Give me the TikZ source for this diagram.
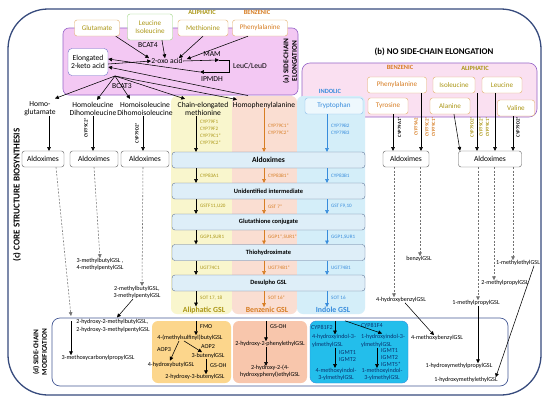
\documentclass[tikz,border=0pt]{standalone}
\usepackage{fontspec}
\setmainfont{Carlito}
\usetikzlibrary{arrows.meta}
\definecolor{frameC}{RGB}{55,75,125}
\definecolor{pinkA}{RGB}{243,200,243}
\definecolor{pinkAB}{RGB}{150,100,200}
\definecolor{pinkB}{RGB}{250,224,241}
\definecolor{aliT}{RGB}{170,150,20}
\definecolor{benT}{RGB}{215,125,35}
\definecolor{indT}{RGB}{55,140,220}
\definecolor{fillAli}{RGB}{249,246,205}
\definecolor{fillBen}{RGB}{250,222,210}
\definecolor{fillInd}{RGB}{212,238,249}
\definecolor{rowF}{RGB}{222,238,248}
\definecolor{rowB}{RGB}{95,115,150}
\definecolor{aaB}{RGB}{225,170,100}
\definecolor{greenB}{RGB}{150,210,120}
\definecolor{grayB}{RGB}{90,90,90}
\definecolor{elB}{RGB}{110,110,200}
\definecolor{dOr}{RGB}{252,214,140}
\definecolor{dSal}{RGB}{248,198,172}
\definecolor{dCy}{RGB}{35,190,235}
\definecolor{dCyT}{RGB}{10,50,110}
\definecolor{dB}{RGB}{70,90,150}
\begin{document}
\begin{tikzpicture}[x=1pt,y=-1pt,
 lab/.style={font=\fontsize{7.6}{8.4}\selectfont, align=center, inner sep=0pt},
 hdr/.style={font=\bfseries\fontsize{6.4}{7}\selectfont, inner sep=0pt},
 sm/.style={font=\fontsize{5.1}{7}\selectfont, align=left, anchor=west, inner sep=0pt},
 rot/.style={font=\bfseries\fontsize{4.8}{5}\selectfont, rotate=90, inner sep=0pt},
 gsl/.style={font=\fontsize{6.1}{7.4}\selectfont, align=center, inner sep=0pt},
 aa/.style={draw=aaB, fill=white, rounded corners=2.5pt, minimum height=16pt, inner sep=1pt, font=\fontsize{7.1}{8.2}\selectfont, align=center},
 aldo/.style={draw=grayB, fill=white, rounded corners=2.5pt, minimum height=16pt, inner sep=1pt, font=\fontsize{7.6}{8}\selectfont},
 rowbox/.style={draw=rowB, fill=rowF, rounded corners=3pt, minimum width=193pt, minimum height=16pt, inner sep=0pt, font=\bfseries\fontsize{6.4}{7}\selectfont},
 arr/.style={-{Triangle[length=3.8pt,width=3.6pt]}, line width=0.55pt},
 dsh/.style={arr, dash pattern=on 2pt off 1.5pt, draw=gray!90!black},
 sec/.style={font=\bfseries\fontsize{7.3}{8.6}\selectfont, align=center, inner sep=0pt},
 gslt/.style={font=\bfseries\fontsize{7.8}{8}\selectfont, inner sep=0pt}
]
\useasboundingbox (0,0) rectangle (550,405);
\fill[white] (0,0) rectangle (550,405);
\draw[frameC, line width=1.3pt, rounded corners=40pt] (8,9) rectangle (541,395);
% section backgrounds
\draw[pinkAB, fill=pinkA, line width=0.6pt, rounded corners=6pt] (63,28) rectangle (298,95);
\draw[pinkAB, fill=pinkB, line width=0.6pt, rounded corners=8pt] (302,63) rectangle (537,117);
\fill[fillAli, rounded corners=6pt] (171,96) rectangle (232,314);
\fill[fillBen, rounded corners=6pt] (232,96) rectangle (297,314);
\fill[fillInd, rounded corners=6pt] (297,96) rectangle (365,314);
\draw[dB, fill=white, line width=0.7pt, rounded corners=8pt] (52,318) rectangle (508,386);
\node[fill=dOr, rounded corners=6pt, minimum width=79pt, minimum height=62pt, inner sep=0pt] (dbA) at (191.5,352) {};
\node[fill=dSal, rounded corners=6pt, minimum width=74pt, minimum height=62pt, inner sep=0pt] (dbB) at (270,352) {};
\node[fill=dCy, draw=indT, rounded corners=6pt, minimum width=98pt, minimum height=62pt, inner sep=0pt] (dbC) at (359,352) {};
% section titles
\node[sec, rotate=90, font=\bfseries\fontsize{9}{10}\selectfont] (secC) at (17,195) {(c) CORE STRUCTURE BIOSYNTHESIS};
\node[sec, rotate=90] (secD) at (40,352) {(d) SIDE-CHAIN\\MODIFICATION};
\node[sec, rotate=90] (secA) at (290,61) {(a) SIDE-CHAIN\\ELONGATION};
\node[sec, font=\bfseries\fontsize{8.8}{10}\selectfont] (secB) at (434,52) {(b) NO SIDE-CHAIN ELONGATION};
% (a) side-chain elongation
\node[hdr, text=aliT] (aliA) at (202,12) {ALIPHATIC};
\node[hdr, text=benT] (benA) at (257,12.5) {BENZENIC};
\node[aa, text=aliT, minimum width=45pt] (glu) at (97,28) {Glutamate};
\node[aa, draw=greenB, text=aliT, minimum width=45pt, minimum height=26pt] (leu) at (150,27) {Leucine\\Isoleucine};
\node[aa, text=aliT, minimum width=50pt] (met) at (203,28) {Methionine};
\node[aa, text=benT, minimum width=55pt] (phe) at (260,28) {Phenylalanine};
\node[draw=elB, fill=white, rounded corners=4pt, minimum width=40pt, minimum height=27pt, lab] (elong) at (88,62) {Elongated\\2-keto acid};
\node[lab] (oxo) at (167,61) {2-oxo acid};
\node[lab] (bcat4) at (148,45) {BCAT4};
\node[lab] (mam) at (212,54) {MAM};
\node[lab] (leucd) at (250,66) {LeuC/LeuD};
\node[lab] (ipmdh) at (212,79) {IPMDH};
\node[lab] (bcat3) at (122,86) {BCAT3};
\coordinate (m1) at (229,60);
\coordinate (m2) at (229,72);
\coordinate (m3) at (200,72);
\coordinate (eo) at (115,76);
\draw[arr] ([xshift=-4pt]glu.south east) -- ([xshift=-2pt]oxo.north west);
\draw[arr] ([xshift=12pt]leu.south) -- ([xshift=-2pt]oxo.north);
\draw[arr] (met.south) -- ([xshift=-4pt]oxo.north east);
\draw[arr] ([xshift=-12pt]phe.south) -- ([xshift=4pt,yshift=2pt]oxo.east);
\draw[arr] (oxo.east) -- (219,60);
\draw[line width=0.55pt] (219,60) -- (m1) -- (m2) -- (207,72);
\draw[arr] (m2) -- (m3);
\draw[arr] (m3) -- ([yshift=3pt]elong.east);
\draw[arr] ([yshift=-2pt]elong.east) -- (oxo.west);
\node[lab] (hglu) at (40,109) {Homo-\\glutamate};
\node[lab] (hleu) at (93,109) {Homoleucine\\Dihomoleucine};
\node[lab] (hile) at (145,109) {Homoisoleucine\\Dihomoisoleucine};
\node[lab] (cem) at (203,109) {Chain-elongated\\methionine};
\node[lab] (hphe) at (264,105) {Homophenylalanine};
\draw[arr] (eo) -- ([xshift=15pt,yshift=3pt]hglu.north);
\draw[arr] (eo) -- ([xshift=4pt,yshift=2pt]hleu.north);
\draw[arr] (eo) -- ([xshift=-15pt,yshift=3pt]hile.north);
\draw[arr] (eo) -- ([xshift=-18pt,yshift=3pt]cem.north);
\draw[arr] (eo) -- ([xshift=-27pt,yshift=2pt]hphe.north);
\draw[arr] ([xshift=-16pt,yshift=6pt]hphe.north) -- ([yshift=-5pt]elong.east);
% left aldoximes
\node[aldo, minimum width=42pt] (ald1) at (43,159) {Aldoximes};
\node[aldo, minimum width=48pt] (ald2) at (94,159) {Aldoximes};
\node[aldo, minimum width=48pt] (ald3) at (145,159) {Aldoximes};
\draw[arr] ([xshift=9pt]hglu.south) -- ([xshift=9pt]hglu.south |- ald1.north);
\draw[arr] (hleu.south) -- (hleu.south |- ald2.north);
\draw[arr] ([xshift=-2pt]hile.south) -- ([xshift=-2pt]hile.south |- ald3.north);
\node[rot] (rc1) at (86,128) {CYP79C2*};
\node[rot] (rc2) at (137,133) {CYP79D2*};
% core column boxes
\node[rowbox] (r1) at (268.5,160) {\fontsize{7.6}{8}\selectfont Aldoximes};
\node[rowbox] (r2) at (268.5,191) {Unidentified intermediate};
\node[rowbox] (r3) at (268.5,222) {Glutathione conjugate};
\node[rowbox] (r4) at (268.5,252.5) {Thiohydroximate};
\node[rowbox] (r5) at (268.5,283) {Desulpho GSL};
\coordinate (xA) at (196,0);
\coordinate (xB) at (264,0);
\coordinate (xC) at (327,0);
\node[hdr, text=indT] (indB) at (330,91) {INDOLIC};
\node[aa, draw=indT!60, fill=white!60!fillInd, text=indT, minimum width=58pt] (trp) at (334,106) {Tryptophan};
\draw[arr] (cem.south -| xA) -- (r1.north -| xA);
\draw[arr, draw=benT] (hphe.south -| xB) -- (r1.north -| xB);
\draw[arr, draw=indT] (trp.south -| xC) -- (r1.north -| xC);
\foreach \a/\b in {r1/r2, r2/r3, r3/r4, r4/r5} {
 \draw[arr] (\a.south -| xA) -- (\b.north -| xA);
 \draw[arr, draw=benT] (\a.south -| xB) -- (\b.north -| xB);
 \draw[arr, draw=indT] (\a.south -| xC) -- (\b.north -| xC);
}
\node[sm, text=aliT] (la0) at (200,132.5) {CYP79F1\\CYP79F2\\CYP79C1*\\CYP79C2*};
\node[sm, text=benT] (lb0) at (268,129) {CYP79C1*\\CYP79C2*};
\node[sm, text=indT] (lc0) at (331,129.5) {CYP79B2\\CYP79B3};
\node[sm, text=aliT] (la1) at (200,175.5) {CYP83A1};
\node[sm, text=benT] (lb1) at (268,175.5) {CYP83B1*};
\node[sm, text=indT] (lc1) at (331,175.5) {CYP83B1};
\node[sm, text=aliT] (la2) at (200,206.5) {GSTF11,U20};
\node[sm, text=benT] (lb2) at (268,206.5) {GST 7*};
\node[sm, text=indT] (lc2) at (331,206.5) {GST F9,10};
\node[sm, text=aliT] (la3) at (200,237) {GGP1,SUR1};
\node[sm, text=benT] (lb3) at (268,237) {GGP1*,SUR1*};
\node[sm, text=indT] (lc3) at (331,237) {GGP1,SUR1};
\node[sm, text=aliT] (la4) at (200,267.5) {UGT74C1};
\node[sm, text=benT] (lb4) at (268,267.5) {UGT74B1*};
\node[sm, text=indT] (lc4) at (331,267.5) {UGT74B1};
\node[sm, text=aliT] (la5) at (200,298) {SOT 17, 18};
\node[sm, text=benT] (lb5) at (268,298) {SOT 16*};
\node[sm, text=indT] (lc5) at (331,298) {SOT 16};
\node[gslt, text=aliT] (aligsl) at (204,310) {Aliphatic GSL};
\node[gslt, text=benT] (bengsl) at (267,310) {Benzenic GSL};
\node[gslt, text=indT] (indgsl) at (333,310) {Indole GSL};
\draw[arr] (r5.south -| xA) -- (aligsl.north -| xA);
\draw[arr, draw=benT] (r5.south -| xB) -- (bengsl.north -| xB);
\draw[arr, draw=indT] (r5.south -| xC) -- (indgsl.north -| xC);
% (b) no side-chain elongation
\node[hdr, text=benT] (benB) at (400,67.5) {BENZENIC};
\node[hdr, text=aliT] (aliB) at (475,68) {ALIPHATIC};
\node[aa, text=benT, minimum width=59pt] (phe2) at (397,85) {Phenylalanine};
\node[aa, text=benT, minimum width=40pt] (tyr) at (388,106) {Tyrosine};
\node[aa, text=aliT, minimum width=42pt] (ile2) at (454,85) {Isoleucine};
\node[aa, text=aliT, minimum width=40pt] (leu2) at (502,85) {Leucine};
\node[aa, text=aliT, minimum width=40pt] (ala) at (450,106) {Alanine};
\node[aa, text=aliT, minimum width=37pt] (val) at (516,108) {Valine};
\node[aldo, minimum width=46pt] (ald4) at (406,159) {Aldoximes};
\node[aldo, minimum width=63pt] (ald5) at (490,159) {Aldoximes};
\draw[arr] ([xshift=5pt]tyr.south) -- ([xshift=5pt]tyr.south |- ald4.north);
\draw[arr] ([xshift=24pt]phe2.south) -- ([xshift=24pt]phe2.south |- ald4.north);
\draw[arr] ([xshift=4pt]ala.south) -- ([xshift=-30pt]ald5.north);
\draw[arr] ([xshift=23pt]ile2.south) -- ([xshift=23pt]ile2.south |- ald5.north);
\draw[arr] ([xshift=-7pt]leu2.south) -- ([xshift=-7pt]leu2.south |- ald5.north);
\draw[arr] ([xshift=-3pt]val.south) -- ([xshift=-3pt]val.south |- ald5.north);
\node[rot] (rb1) at (399.5,127) {CYP79A1*};
\node[rot, text=benT] (rb2) at (416,127) {CYP79A2};
\node[rot, text=benT] (rb3) at (427,127) {CYP79C2*};
\node[rot, text=benT] (rb4) at (433.5,127) {CYP79C1*};
\node[rot, text=aliT] (rb5) at (472,127) {CYP79D2*};
\node[rot, text=aliT] (rb6) at (481,127) {CYP79C2*};
\node[rot, text=aliT] (rb7) at (487.5,127) {CYP79C1*};
\node[rot] (rb8) at (518,127) {CYP79D2*};
% GSL products
\node[gsl] (mbp) at (100,264.5) {3-methylbutylGSL ,\\4-methylpentylGSL};
\node[gsl] (mbp2) at (137,292.5) {2-methylbutylGSL,\\3-methylpentylGSL};
\node[gsl, align=left] (hmb) at (113,326) {2-hydroxy-2-methylbutylGSL,\\2-hydroxy-3-methylpentylGSL};
\node[gsl] (mcp) at (98,358) {3-methoxycarbonylpropylGSL};
\node[gsl] (bz) at (419,259) {benzylGSL};
\node[gsl] (hb) at (401,300) {4-hydroxybenzylGSL};
\node[gsl] (mp) at (476,303) {1-methylpropylGSL};
\node[gsl] (mp2) at (505,283) {2-methylpropylGSL};
\node[gsl] (me) at (518,263) {1-methylethylGSL};
\node[gsl] (mob) at (437,338) {4-methoxybenzylGSL};
\node[gsl] (hmp) at (459,366) {1-hydroxymethylpropylGSL};
\node[gsl] (hme) at (466,380) {1-hydroxymethylethylGSL};
\coordinate (c1) at (71,316);
\coordinate (c2) at (71,321);
\draw[dsh] ([xshift=13pt]ald1.south) -- (c1);
\draw[arr] (c2) -- (c2 |- mcp.north);
\draw[dsh] (ald2.south) -- (mbp.north);
\draw[dsh] ([xshift=-2pt]ald3.south) -- ([xshift=5pt]mbp2.north);
\draw[arr] ([xshift=-4pt]mbp2.south) -- ([xshift=4pt,yshift=2pt]hmb.north);
\draw[dsh] ([xshift=-12pt]ald4.south) -- ([xshift=-12pt]ald4.south |- hb.north);
\draw[dsh] ([xshift=14pt]ald4.south) -- ([xshift=14pt]ald4.south |- bz.north);
\draw[dsh] ([xshift=-12pt]ald5.south) -- ([xshift=-12pt]ald5.south |- mp.north);
\draw[dsh] ([xshift=4pt]ald5.south) -- ([xshift=4pt]ald5.south |- mp2.north);
\draw[dsh] ([xshift=23pt]ald5.south) -- ([xshift=23pt]ald5.south |- me.north);
\draw[arr] ([xshift=4pt]hb.south) -- ([xshift=-3pt]mob.north);
\draw[arr] ([xshift=2pt]mp.south) -- ([xshift=2pt]mp.south |- hmp.north);
\draw[arr] ([xshift=16pt]me.south) -- ([xshift=-2pt]hme.north east);
% (d) aliphatic box
\node[gsl] (msb) at (190,338) {4-(methylsulfinyl)butylGSL};
\node[gsl, anchor=west] (fmo) at (200,326.5) {FMO};
\node[gsl] (aop3) at (164,350) {AOP3};
\node[gsl] (aop2) at (208,347) {AOP2};
\node[gsl] (but) at (208,356) {3-butenylGSL};
\node[gsl] (hbut) at (171,364.5) {4-hydroxybutylGSL};
\node[gsl, anchor=west] (gsoh1) at (210,366) {GS-OH};
\node[gsl] (hb3) at (195,377) {2-hydroxy-3-butenylGSL};
\draw[arr] ([xshift=4.5pt]dbA.north) -- ([xshift=4.5pt]dbA.north |- msb.north);
\draw[arr] ([xshift=-11pt]msb.south) -- ([xshift=-1pt,yshift=1pt]hbut.north);
\draw[arr] ([xshift=-6pt]msb.south) -- ([xshift=-6pt,yshift=1pt]but.north);
\draw[arr] ([xshift=-2pt]but.south) -- ([xshift=-2pt]but.south |- hb3.north);
% (d) benzenic box
\node[gsl, anchor=west] (gsoh2) at (270,327) {GS-OH};
\node[gsl] (hpe) at (270,344) {2-hydroxy-2-phenylethylGSL};
\node[gsl] (hhpe) at (270,371.5) {2-hydroxy-2-(4-\\hydroxyphenyl)ethylGSL};
\draw[arr] ([xshift=-4pt]dbB.north) -- ([xshift=-4pt]dbB.north |- hpe.north);
\draw[arr] ([xshift=-4pt]hpe.south) -- ([xshift=-4pt,yshift=-1pt]hhpe.north);
% (d) indole box
\node[gsl, anchor=west, text=dCyT] (f2) at (311,327) {CYP81F2};
\node[gsl, anchor=west, text=dCyT] (f4) at (361,325) {CYP81F4};
\node[gsl, anchor=west, align=left, text=dCyT] (hi4) at (312,341) {4-hydroxyindol-3-\\ylmethylGSL};
\node[gsl, anchor=west, align=left, text=dCyT] (hi1) at (361,341) {1-hydroxyindol-3-\\ylmethylGSL};
\node[gsl, anchor=west, align=left, text=dCyT] (ig1) at (339,356) {IGMT1\\IGMT2};
\node[gsl, anchor=west, align=left, text=dCyT] (ig2) at (381,357.5) {IGMT1\\IGMT2\\IGMT5*};
\node[gsl, text=dCyT] (mi4) at (336,374.5) {4-methoxyindol-\\3-ylmethylGSL};
\node[gsl, text=dCyT] (mi1) at (382,374.5) {1-methoxyindol-\\3-ylmethylGSL};
\draw[arr] ([xshift=-24pt]dbC.north) -- ([xshift=-24pt]dbC.north |- hi4.north);
\draw[arr] ([xshift=-14pt]dbC.north) -- ([xshift=-1pt,yshift=1pt]hi1.north);
\draw[arr] ([xshift=23pt]hi4.south west) -- ([xshift=23pt]hi4.south west |- mi4.north);
\draw[arr] ([xshift=16pt]hi1.south west) -- ([xshift=16pt]hi1.south west |- mi1.north);
\end{tikzpicture}
\end{document}
